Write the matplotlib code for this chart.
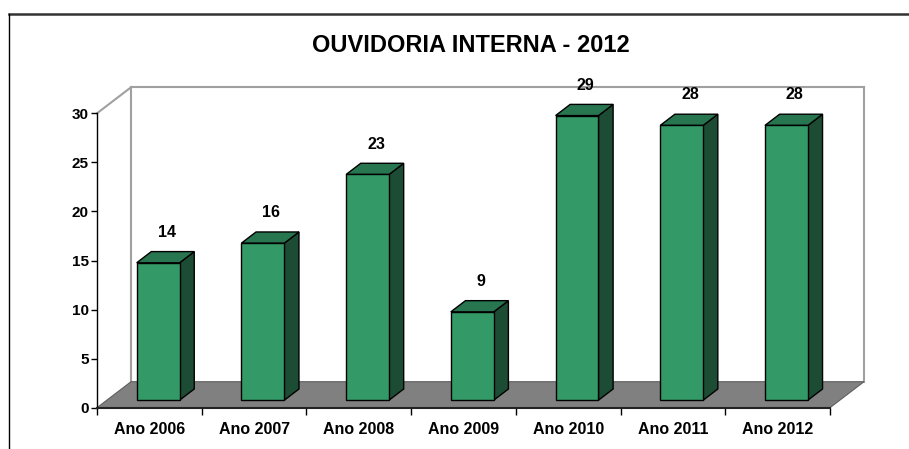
import matplotlib
matplotlib.use("Agg")
import matplotlib.pyplot as plt
from matplotlib.patches import Polygon
from matplotlib.lines import Line2D

categories = ["Ano 2006", "Ano 2007", "Ano 2008", "Ano 2009", "Ano 2010", "Ano 2011", "Ano 2012"]
values = [14, 16, 23, 9, 29, 28, 28]
yticks = [0, 5, 10, 15, 20, 25, 30]
title = "OUVIDORIA INTERNA - 2012"

plt.rcParams['font.family'] = ['Liberation Sans', 'DejaVu Sans']
plt.rcParams['font.weight'] = 'bold'

W, H = 909, 449
fig = plt.figure(figsize=(W / 100, H / 100), dpi=100)

# axes occupies the front plane of the 3D box
x0, x1 = 97, 830
y0, y1 = 407.7, 113.3
ax = fig.add_axes([x0 / W, (H - y0) / H, (x1 - x0) / W, (y0 - y1) / H])
n = len(categories)
ymax = 30
ax.set_xlim(0, n)
ax.set_ylim(0, ymax)

# depth offsets in data units
DX = 34 / ((x1 - x0) / n)
DY = 26 / ((y0 - y1) / ymax)

wall_c = '#a0a0a0'
# floor
floor = Polygon([(0, 0), (n, 0), (n + DX, DY), (DX, DY)], closed=True,
                facecolor='#808080', edgecolor='#606060', lw=0.8, clip_on=False, zorder=1)
ax.add_patch(floor)
# walls
for xs, ys in [([DX, DX], [DY, ymax + DY]),
               ([DX, n + DX], [ymax + DY, ymax + DY]),
               ([n + DX, n + DX], [DY, ymax + DY]),
               ([0, DX], [ymax, ymax + DY])]:
    ax.plot(xs, ys, color=wall_c, lw=1.5, clip_on=False, zorder=0.5, solid_capstyle='projecting')

front_c = '#339966'
top_c = '#287650'
side_c = '#1d4c35'
f0 = 0.29
fd = 0.43
bw = 0.41
bdx, bdy = fd * DX, fd * DY
for i, v in enumerate(values):
    xc = i + 0.5 + f0 * DX - 0.01
    xl, xr = xc - bw / 2, xc + bw / 2
    base = f0 * DY
    top = base + v
    side = Polygon([(xr, base), (xr, top), (xr + bdx, top + bdy), (xr + bdx, base + bdy)],
                   closed=True, facecolor=side_c, edgecolor='black', lw=1.0, clip_on=False, zorder=3)
    topf = Polygon([(xl, top), (xr, top), (xr + bdx, top + bdy), (xl + bdx, top + bdy)],
                   closed=True, facecolor=top_c, edgecolor='black', lw=1.0, clip_on=False, zorder=3)
    front = Polygon([(xl, base), (xr, base), (xr, top), (xl, top)],
                    closed=True, facecolor=front_c, edgecolor='black', lw=1.0, clip_on=False, zorder=4)
    for p in (side, topf, front):
        ax.add_patch(p)
    ax.text(xc + 0.08, top + 3.1, f"{v}", ha='center', va='center',
            fontsize=11.5, fontweight='bold', color='black', clip_on=False)

# axes styling
for s in ['top', 'right']:
    ax.spines[s].set_visible(False)
ax.spines['left'].set_color('black')
ax.spines['left'].set_linewidth(1.0)
ax.spines['bottom'].set_color('#222222')
ax.spines['bottom'].set_linewidth(1.5)
ax.spines['left'].set_zorder(5)
ax.spines['bottom'].set_zorder(5)
ax.set_facecolor('none')
ax.patch.set_visible(False)

ax.set_yticks(yticks)
ax.set_yticklabels([str(t) for t in yticks], fontsize=11, fontweight='bold')
ax.tick_params(axis='y', direction='out', length=4, width=1, pad=2, colors='black')

ax.set_xticks([i + 0.5 for i in range(n)])
ax.set_xticklabels(categories, fontsize=11.5, fontweight='bold')
ax.set_xticks(list(range(n + 1)), minor=True)
ax.tick_params(axis='x', which='major', length=0, pad=10)
ax.tick_params(axis='x', which='minor', direction='out', length=5, width=1, colors='black')

fig.text(471 / W, 1 - 46 / H, title, ha='center', va='center', fontsize=17, fontweight='bold')

# chart frame
fig.add_artist(Line2D([9 / W, 1], [1 - 14 / H, 1 - 14 / H], color='#333333', lw=1.8))
fig.add_artist(Line2D([9 / W, 9 / W], [1 - 14 / H, 0], color='black', lw=1.0))

fig.savefig("out.png", dpi=100)
